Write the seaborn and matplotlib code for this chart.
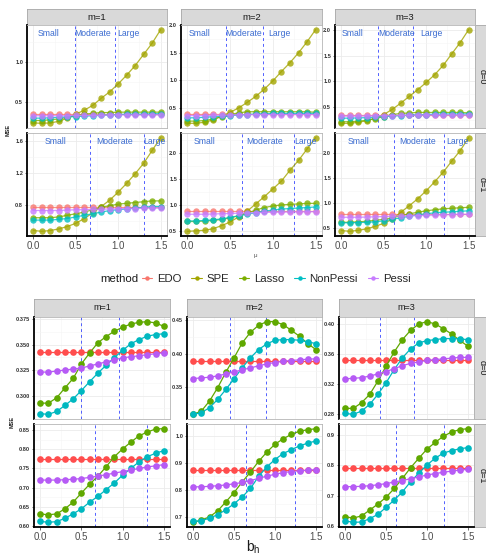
import matplotlib
matplotlib.use("Agg")
import matplotlib.pyplot as plt
import matplotlib.transforms as mtransforms
from matplotlib.lines import Line2D
from matplotlib.ticker import AutoMinorLocator
import pandas as pd
import seaborn as sns

# ---------------- data ----------------
grid_x = [0.0, 0.1, 0.2, 0.3, 0.4, 0.5, 0.6, 0.7, 0.8, 0.9, 1.0, 1.1, 1.2, 1.3, 1.4, 1.5]

top_methods = ['EDO', 'SPE', 'Lasso', 'NonPessi', 'Pessi']
bot_methods = ['EDO', 'Lasso', 'NonPessi', 'Pessi']

# top figure (x = mu), d=0
edo_t01 = [0.35, 0.35, 0.35, 0.35, 0.35, 0.35, 0.35, 0.35, 0.35, 0.35, 0.35, 0.35, 0.35, 0.35, 0.35, 0.35]
spe_t01 = [0.24, 0.235, 0.24, 0.26, 0.30, 0.35, 0.40, 0.46, 0.55, 0.63, 0.73, 0.84, 0.96, 1.10, 1.24, 1.41]
las_t01 = [0.27, 0.27, 0.28, 0.29, 0.31, 0.33, 0.35, 0.36, 0.37, 0.37, 0.375, 0.375, 0.375, 0.375, 0.375, 0.375]
nps_t01 = [0.30, 0.30, 0.305, 0.31, 0.315, 0.32, 0.325, 0.33, 0.335, 0.34, 0.345, 0.35, 0.35, 0.35, 0.355, 0.355]
pes_t01 = [0.33, 0.33, 0.33, 0.33, 0.33, 0.335, 0.335, 0.335, 0.335, 0.34, 0.34, 0.34, 0.34, 0.34, 0.34, 0.34]

edo_t02 = [0.39, 0.39, 0.39, 0.39, 0.39, 0.39, 0.39, 0.39, 0.39, 0.39, 0.39, 0.39, 0.39, 0.39, 0.39, 0.39]
spe_t02 = [0.22, 0.22, 0.24, 0.28, 0.35, 0.42, 0.50, 0.60, 0.71, 0.84, 0.99, 1.16, 1.32, 1.50, 1.70, 1.92]
las_t02 = [0.26, 0.26, 0.27, 0.30, 0.34, 0.38, 0.41, 0.43, 0.43, 0.43, 0.43, 0.43, 0.43, 0.43, 0.43, 0.42]
nps_t02 = [0.32, 0.32, 0.33, 0.34, 0.35, 0.36, 0.37, 0.38, 0.39, 0.395, 0.40, 0.40, 0.40, 0.40, 0.40, 0.40]
pes_t02 = [0.36, 0.36, 0.36, 0.365, 0.37, 0.37, 0.375, 0.375, 0.38, 0.38, 0.38, 0.38, 0.38, 0.38, 0.38, 0.38]

edo_t03 = [0.35, 0.35, 0.35, 0.35, 0.35, 0.35, 0.35, 0.35, 0.35, 0.35, 0.35, 0.35, 0.35, 0.35, 0.35, 0.35]
spe_t03 = [0.19, 0.19, 0.21, 0.24, 0.29, 0.36, 0.46, 0.58, 0.71, 0.84, 0.98, 1.13, 1.31, 1.53, 1.75, 2.00]
las_t03 = [0.22, 0.22, 0.23, 0.25, 0.28, 0.32, 0.36, 0.38, 0.39, 0.40, 0.40, 0.40, 0.40, 0.40, 0.40, 0.39]
nps_t03 = [0.29, 0.29, 0.295, 0.30, 0.31, 0.32, 0.33, 0.34, 0.35, 0.355, 0.36, 0.365, 0.37, 0.37, 0.37, 0.37]
pes_t03 = [0.33, 0.33, 0.33, 0.335, 0.335, 0.34, 0.34, 0.345, 0.345, 0.35, 0.35, 0.35, 0.35, 0.35, 0.35, 0.35]

# top figure, d=1
edo_t11 = [0.78, 0.78, 0.78, 0.78, 0.78, 0.78, 0.78, 0.78, 0.78, 0.78, 0.78, 0.78, 0.78, 0.78, 0.78, 0.78]
spe_t11 = [0.48, 0.47, 0.48, 0.50, 0.53, 0.57, 0.63, 0.70, 0.78, 0.86, 0.96, 1.07, 1.19, 1.32, 1.48, 1.64]
las_t11 = [0.64, 0.64, 0.64, 0.65, 0.67, 0.69, 0.71, 0.74, 0.77, 0.79, 0.81, 0.82, 0.83, 0.84, 0.85, 0.85]
nps_t11 = [0.61, 0.61, 0.61, 0.62, 0.63, 0.65, 0.67, 0.69, 0.71, 0.73, 0.74, 0.75, 0.76, 0.77, 0.78, 0.78]
pes_t11 = [0.73, 0.73, 0.73, 0.73, 0.735, 0.74, 0.74, 0.745, 0.745, 0.75, 0.75, 0.755, 0.755, 0.76, 0.76, 0.76]

edo_t12 = [0.88, 0.88, 0.88, 0.88, 0.88, 0.88, 0.88, 0.88, 0.88, 0.88, 0.88, 0.88, 0.88, 0.88, 0.88, 0.88]
spe_t12 = [0.49, 0.50, 0.51, 0.54, 0.60, 0.67, 0.77, 0.88, 1.02, 1.16, 1.31, 1.46, 1.67, 1.86, 2.08, 2.30]
las_t12 = [0.68, 0.68, 0.69, 0.70, 0.72, 0.75, 0.79, 0.84, 0.90, 0.95, 0.98, 1.00, 1.01, 1.02, 1.03, 1.03]
nps_t12 = [0.69, 0.69, 0.70, 0.71, 0.73, 0.76, 0.79, 0.82, 0.85, 0.88, 0.90, 0.92, 0.93, 0.94, 0.95, 0.96]
pes_t12 = [0.82, 0.82, 0.82, 0.825, 0.83, 0.835, 0.84, 0.845, 0.85, 0.855, 0.86, 0.86, 0.865, 0.865, 0.87, 0.87]

edo_t13 = [0.78, 0.78, 0.78, 0.78, 0.78, 0.78, 0.78, 0.78, 0.78, 0.78, 0.78, 0.78, 0.78, 0.78, 0.78, 0.78]
spe_t13 = [0.455, 0.44, 0.46, 0.49, 0.54, 0.60, 0.68, 0.82, 0.95, 1.09, 1.25, 1.43, 1.62, 1.84, 2.05, 2.31]
las_t13 = [0.62, 0.62, 0.63, 0.64, 0.66, 0.68, 0.71, 0.75, 0.79, 0.82, 0.85, 0.87, 0.89, 0.90, 0.91, 0.92]
nps_t13 = [0.61, 0.61, 0.615, 0.62, 0.63, 0.65, 0.68, 0.71, 0.74, 0.77, 0.79, 0.81, 0.82, 0.83, 0.84, 0.85]
pes_t13 = [0.72, 0.72, 0.72, 0.725, 0.73, 0.735, 0.74, 0.745, 0.75, 0.755, 0.76, 0.765, 0.77, 0.775, 0.78, 0.78]

# bottom figure (x = b_h), d=0
edo_b01 = [0.343, 0.343, 0.343, 0.343, 0.343, 0.343, 0.343, 0.343, 0.343, 0.343, 0.343, 0.343, 0.343, 0.343, 0.343, 0.343]
las_b01 = [0.2926, 0.2926, 0.2978, 0.3075, 0.3168, 0.331, 0.3417, 0.3517, 0.3578, 0.363, 0.3669, 0.3701, 0.3717, 0.3724, 0.3711, 0.3678]
nps_b01 = [0.2823, 0.2816, 0.2845, 0.2903, 0.2968, 0.3049, 0.3136, 0.322, 0.3297, 0.3372, 0.3443, 0.3507, 0.3549, 0.3581, 0.3598, 0.3605]
pes_b01 = [0.323, 0.323, 0.324, 0.325, 0.326, 0.327, 0.329, 0.331, 0.333, 0.335, 0.337, 0.338, 0.339, 0.340, 0.341, 0.342]

edo_b02 = [0.39, 0.39, 0.39, 0.39, 0.39, 0.39, 0.39, 0.39, 0.39, 0.39, 0.39, 0.39, 0.39, 0.39, 0.39, 0.39]
las_b02 = [0.3094, 0.3143, 0.3293, 0.3493, 0.3725, 0.394, 0.4164, 0.4322, 0.4427, 0.4482, 0.4482, 0.4437, 0.4352, 0.4263, 0.4154, 0.4064]
nps_b02 = [0.3094, 0.3119, 0.3194, 0.3318, 0.3467, 0.3627, 0.3791, 0.394, 0.4064, 0.4149, 0.4203, 0.4213, 0.4213, 0.4203, 0.4179, 0.4154]
pes_b02 = [0.363, 0.364, 0.365, 0.367, 0.370, 0.373, 0.376, 0.379, 0.382, 0.385, 0.387, 0.389, 0.390, 0.391, 0.392, 0.3925]

edo_b03 = [0.352, 0.352, 0.352, 0.352, 0.352, 0.352, 0.352, 0.352, 0.352, 0.352, 0.352, 0.352, 0.352, 0.352, 0.352, 0.352]
las_b03 = [0.287, 0.287, 0.2945, 0.3056, 0.3233, 0.3432, 0.3623, 0.3787, 0.3911, 0.3996, 0.4027, 0.3996, 0.3934, 0.3863, 0.3778, 0.3699]
nps_b03 = [0.2803, 0.279, 0.2834, 0.2923, 0.3056, 0.3211, 0.3388, 0.3544, 0.3664, 0.3743, 0.3774, 0.3787, 0.3801, 0.3801, 0.3797, 0.3787]
pes_b03 = [0.3265, 0.327, 0.328, 0.330, 0.333, 0.336, 0.340, 0.344, 0.347, 0.349, 0.351, 0.352, 0.353, 0.354, 0.355, 0.355]

# bottom figure, d=1
edo_b11 = [0.774, 0.774, 0.774, 0.774, 0.774, 0.774, 0.774, 0.774, 0.774, 0.774, 0.774, 0.774, 0.774, 0.774, 0.774, 0.774]
las_b11 = [0.6325, 0.6298, 0.6325, 0.6455, 0.6628, 0.6864, 0.7092, 0.7301, 0.7545, 0.7806, 0.8008, 0.8183, 0.8348, 0.8445, 0.8524, 0.8532]
nps_b11 = [0.613, 0.6105, 0.6123, 0.621, 0.6325, 0.6455, 0.6628, 0.6777, 0.6953, 0.7126, 0.7327, 0.7503, 0.7675, 0.7806, 0.7895, 0.7963]
pes_b11 = [0.720, 0.720, 0.720, 0.721, 0.722, 0.724, 0.727, 0.730, 0.734, 0.738, 0.742, 0.746, 0.750, 0.754, 0.757, 0.760]

edo_b12 = [0.875, 0.875, 0.875, 0.875, 0.875, 0.875, 0.875, 0.875, 0.875, 0.875, 0.875, 0.875, 0.875, 0.875, 0.875, 0.875]
las_b12 = [0.682, 0.690, 0.702, 0.724, 0.757, 0.791, 0.830, 0.866, 0.905, 0.939, 0.968, 0.988, 1.004, 1.016, 1.021, 1.025]
nps_b12 = [0.685, 0.688, 0.697, 0.710, 0.728, 0.750, 0.775, 0.806, 0.850, 0.885, 0.912, 0.934, 0.948, 0.962, 0.972, 0.980]
pes_b12 = [0.812, 0.812, 0.814, 0.816, 0.819, 0.823, 0.828, 0.835, 0.843, 0.851, 0.858, 0.864, 0.868, 0.871, 0.873, 0.875]

edo_b13 = [0.792, 0.792, 0.792, 0.792, 0.792, 0.792, 0.792, 0.792, 0.792, 0.792, 0.792, 0.792, 0.792, 0.792, 0.792, 0.792]
las_b13 = [0.631, 0.627, 0.634, 0.653, 0.673, 0.695, 0.724, 0.757, 0.792, 0.823, 0.853, 0.875, 0.895, 0.909, 0.917, 0.920]
nps_b13 = [0.6175, 0.613, 0.614, 0.625, 0.639, 0.662, 0.686, 0.713, 0.746, 0.774, 0.801, 0.823, 0.840, 0.848, 0.854, 0.858]
pes_b13 = [0.730, 0.730, 0.731, 0.733, 0.736, 0.740, 0.745, 0.750, 0.756, 0.762, 0.768, 0.773, 0.777, 0.781, 0.784, 0.787]

# thresholds (blue dashed lines), per d then m
cuts_d0 = [[0.49, 0.96], [0.45, 0.885], [0.43, 0.845]]
cuts_d1 = [[0.667, 1.30], [0.64, 1.245], [0.62, 1.21]]

# region label positions in the top figure
region_names = ['Small', 'Moderate', 'Large']
region_x_d0 = [[0.18, 0.70, 1.12], [0.14, 0.66, 1.075], [0.127, 0.646, 1.06]]
region_x_d1 = [[0.265, 0.96, 1.43], [0.20, 0.905, 1.38], [0.20, 0.896, 1.37]]

# y ticks
top_yticks = {(0, 1): [0.5, 1.0], (0, 2): [0.5, 1.0, 1.5, 2.0], (0, 3): [0.5, 1.0, 1.5, 2.0],
              (1, 1): [0.8, 1.2, 1.6], (1, 2): [0.5, 1.0, 1.5, 2.0], (1, 3): [0.5, 1.0, 1.5, 2.0]}
top_yfmt = {(0, 1): '{:.1f}', (0, 2): '{:.1f}', (0, 3): '{:.1f}',
            (1, 1): '{:.1f}', (1, 2): '{:.1f}', (1, 3): '{:.1f}'}
bot_yticks = {(0, 1): [0.300, 0.325, 0.350, 0.375], (0, 2): [0.35, 0.40, 0.45], (0, 3): [0.28, 0.32, 0.36, 0.40],
              (1, 1): [0.60, 0.65, 0.70, 0.75, 0.80, 0.85], (1, 2): [0.7, 0.8, 0.9, 1.0], (1, 3): [0.6, 0.7, 0.8, 0.9]}
bot_yfmt = {(0, 1): '{:.3f}', (0, 2): '{:.2f}', (0, 3): '{:.2f}',
            (1, 1): '{:.2f}', (1, 2): '{:.1f}', (1, 3): '{:.1f}'}
x_ticks = [0.0, 0.5, 1.0, 1.5]

top_pal = {'EDO': '#F8766D', 'SPE': '#A3A500', 'Lasso': '#7CAE00', 'NonPessi': '#00BFC4', 'Pessi': '#C77CFF'}
bot_pal = {'EDO': '#FF4D4D', 'Lasso': '#5FA800', 'NonPessi': '#00B8C0', 'Pessi': '#B65BF5'}

top_series = {
    (0, 1): [edo_t01, spe_t01, las_t01, nps_t01, pes_t01],
    (0, 2): [edo_t02, spe_t02, las_t02, nps_t02, pes_t02],
    (0, 3): [edo_t03, spe_t03, las_t03, nps_t03, pes_t03],
    (1, 1): [edo_t11, spe_t11, las_t11, nps_t11, pes_t11],
    (1, 2): [edo_t12, spe_t12, las_t12, nps_t12, pes_t12],
    (1, 3): [edo_t13, spe_t13, las_t13, nps_t13, pes_t13],
}
bot_series = {
    (0, 1): [edo_b01, las_b01, nps_b01, pes_b01],
    (0, 2): [edo_b02, las_b02, nps_b02, pes_b02],
    (0, 3): [edo_b03, las_b03, nps_b03, pes_b03],
    (1, 1): [edo_b11, las_b11, nps_b11, pes_b11],
    (1, 2): [edo_b12, las_b12, nps_b12, pes_b12],
    (1, 3): [edo_b13, las_b13, nps_b13, pes_b13],
}


def long_table(series, methods):
    rows = []
    for (d, m), lists in series.items():
        for meth, vals in zip(methods, lists):
            for xv, yv in zip(grid_x, vals):
                rows.append({'d': d, 'm': m, 'method': meth, 'x': xv, 'mse': yv})
    return pd.DataFrame(rows)


top_df = long_table(top_series, top_methods)
bot_df = long_table(bot_series, bot_methods)

# ---------------- layout ----------------
sns.set_theme(style="white")
plt.rcParams['font.family'] = ['Liberation Sans', 'DejaVu Sans']

W, H = 486, 557
fig = plt.figure(figsize=(W / 100, H / 100), dpi=100)


def px_axes(x0, y0, x1, y1):
    return fig.add_axes([x0 / W, 1 - y1 / H, (x1 - x0) / W, (y1 - y0) / H])


def strip(x0, y0, x1, y1, label, rot=0, size=6.5):
    s = px_axes(x0, y0, x1, y1)
    s.set_facecolor('#D9D9D9')
    for sp in s.spines.values():
        sp.set_color('#A8A8A8')
        sp.set_linewidth(0.6)
    s.set_xticks([])
    s.set_yticks([])
    s.text(0.5, 0.5, label, ha='center', va='center',
           rotation=rot, fontsize=size, color='#1A1A1A', transform=s.transAxes)
    return s


def panel(rect, df, pal, methods, cuts, yticks, yfmt, bottom_row, alpha, msize, regions=None):
    ax = px_axes(*rect)
    sns.lineplot(data=df, x='x', y='mse', hue='method', hue_order=methods, palette=pal,
                 marker='o', markersize=msize, markeredgewidth=0, linewidth=0.9,
                 alpha=alpha, errorbar=None, legend=False, ax=ax)
    lo, hi = df['mse'].min(), df['mse'].max()
    pad = (hi - lo) * 0.05
    ax.set_ylim(lo - pad, hi + pad)
    ax.set_xlim(-0.075, 1.575)
    for c in cuts:
        ax.axvline(c, color='#3344FF', lw=0.7, ls=(0, (3, 3)), alpha=0.85, zorder=1)
    if regions is not None:
        tr = mtransforms.blended_transform_factory(ax.transData, ax.transAxes)
        for name, xv in zip(region_names, regions):
            ax.text(xv, 0.915, name, transform=tr, ha='center', va='center',
                    fontsize=6.2, color='#3A6BD0', clip_on=True)
    ax.set_xticks(x_ticks)
    ax.set_xticks([0.25, 0.75, 1.25], minor=True)
    ax.set_yticks(yticks)
    ax.set_yticklabels([yfmt.format(t) for t in yticks])
    ax.yaxis.set_minor_locator(AutoMinorLocator(2))
    ax.set_facecolor('white')
    ax.grid(which='major', color='#EBEBEB', lw=0.6)
    ax.grid(which='minor', color='#F5F5F5', lw=0.4)
    ax.set_axisbelow(True)
    for side in ['top', 'right']:
        ax.spines[side].set_color('#B5B5B5')
        ax.spines[side].set_linewidth(0.6)
    ax.spines['left'].set_color('black')
    ax.spines['left'].set_linewidth(1.3)
    if bottom_row:
        ax.spines['bottom'].set_color('black')
        ax.spines['bottom'].set_linewidth(1.3)
        ax.tick_params(axis='x', which='major', length=2, width=0.5, labelsize=7,
                       pad=1.5, labelcolor='#4D4D4D', color='#333333', bottom=True)
        ax.set_xticklabels(['0.0', '0.5', '1.0', '1.5'])
    else:
        ax.spines['bottom'].set_color('#B5B5B5')
        ax.spines['bottom'].set_linewidth(0.6)
        ax.tick_params(axis='x', labelbottom=False, length=0)
    ax.tick_params(axis='x', which='minor', length=0)
    ax.tick_params(axis='y', which='major', length=1.8, width=0.5, labelsize=4.1, pad=1,
                   labelcolor='#333333', color='#333333', left=True)
    ax.tick_params(axis='y', which='minor', length=0)
    for lab in ax.get_yticklabels():
        lab.set_fontweight('bold')
    ax.set_xlabel('')
    ax.set_ylabel('')
    return ax


# ----- top figure -----
top_cols = [(27, 167), (181, 322), (335, 475)]
top_rows = [(25, 128), (133, 236)]
for j, (x0, x1) in enumerate(top_cols):
    strip(x0, 9, x1, 25, 'm=%d' % (j + 1), size=6.8)
for i, (y0, y1) in enumerate(top_rows):
    strip(475, y0, 490, y1, 'd=%d' % i, rot=-90, size=6.5)
    for j, (x0, x1) in enumerate(top_cols):
        sub = top_df[(top_df['d'] == i) & (top_df['m'] == j + 1)]
        cuts = (cuts_d0 if i == 0 else cuts_d1)[j]
        regs = (region_x_d0 if i == 0 else region_x_d1)[j]
        panel((x0, y0, x1, y1), sub, top_pal, top_methods, cuts,
              top_yticks[(i, j + 1)], top_yfmt[(i, j + 1)], i == 1, 0.8, 4.6, regs)

fig.text(8 / W, 1 - 130 / H, 'MSE', rotation=90, ha='center', va='center',
         fontsize=4, fontweight='bold', color='#222222')
fig.text(255 / W, 1 - 255 / H, 'μ', ha='center', va='center', fontsize=4.5, color='#555555')

# legend
fig.text(138 / W, 1 - 279 / H, 'method', ha='right', va='center', fontsize=8.2, color='#1A1A1A')
handles = [Line2D([0], [0], color=top_pal[mm], marker='o', markersize=3.2, lw=0.8,
                  markeredgewidth=0) for mm in top_methods]
fig.legend(handles, top_methods, loc='center left', bbox_to_anchor=(142 / W, 1 - 279 / H),
           ncol=5, frameon=False, fontsize=8.2, handlelength=0.9, handletextpad=0.4,
           columnspacing=0.9, borderpad=0, borderaxespad=0)

# ----- bottom figure -----
bot_cols = [(34, 170), (187, 322), (339, 474)]
bot_rows = [(317, 419), (424, 527)]
for j, (x0, x1) in enumerate(bot_cols):
    strip(x0, 299, x1, 317, 'm=%d' % (j + 1), size=6.5)
for i, (y0, y1) in enumerate(bot_rows):
    strip(474, y0, 490, y1, 'd=%d' % i, rot=-90, size=6.5)
    for j, (x0, x1) in enumerate(bot_cols):
        sub = bot_df[(bot_df['d'] == i) & (bot_df['m'] == j + 1)]
        cuts = (cuts_d0 if i == 0 else cuts_d1)[j]
        panel((x0, y0, x1, y1), sub, bot_pal, bot_methods, cuts,
              bot_yticks[(i, j + 1)], bot_yfmt[(i, j + 1)], i == 1, 1.0, 4.8)

fig.text(12 / W, 1 - 422 / H, 'MSE', rotation=90, ha='center', va='center',
         fontsize=4, fontweight='bold', color='#222222')
fig.text(253 / W, 1 - 547 / H, r'$\mathregular{b_h}$', ha='center', va='center',
         fontsize=10, color='#1A1A1A')

fig.savefig('out.png', dpi=100, facecolor='white')
